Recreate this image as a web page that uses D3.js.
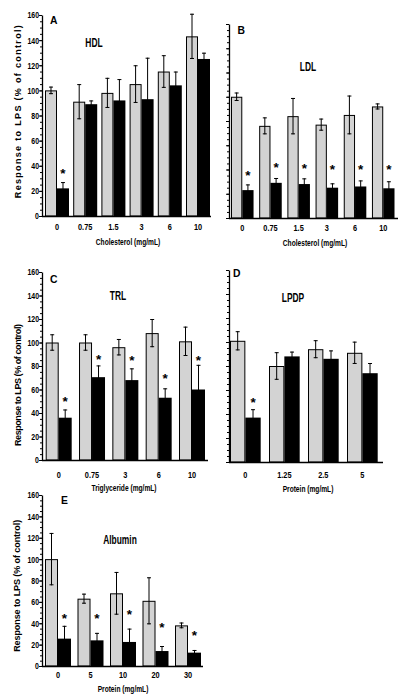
<!DOCTYPE html>
<html><head><meta charset="utf-8">
<script src="https://cdn.jsdelivr.net/npm/d3@7"></script>
<style>
body{margin:0;background:#fff;}
svg text{font-family:"Liberation Sans",Arial,sans-serif;font-weight:bold;fill:#000;}
</style></head><body>
<svg id="c" width="403" height="698"></svg>
<script>
// ---------- data ----------
const yTickValues = [0,20,40,60,80,100,120,140,160];

const hdlCats    = ["0","0.75","1.5","3","6","10"];
const hdlCtrl    = [100,91,98,105,115,143];
const hdlCtrlErr = [3,14,12,15,13,18];
const hdlTrt     = [22,89,92,93,104,125];
const hdlTrtErr  = [5,3,17,33,11,5];
const hdlStars   = [36,null,null,null,null,null];

const ldlCats    = ["0","0.75","1.5","3","6","10"];
const ldlCtrl    = [100,76,84,77,85,92];
const ldlCtrlErr = [3.5,7,15,5,16,2.5];
const ldlTrt     = [23,29,28,25,26,24.5];
const ldlTrtErr  = [4.7,4,4.7,3.6,5,5.8];
const ldlStars   = [37,43.7,42.9,42.3,42.3,42.3];

const trlCats    = ["0","0.75","3","6","10"];
const trlCtrl    = [100,100,96,108,101];
const trlCtrlErr = [7,7,7,12,12.5];
const trlTrt     = [36,70.5,68,53,60];
const trlTrtErr  = [7,10,10,8,21];
const trlStars   = [52,88,87,72,87];

const lpdpCats    = ["0","1.25","2.5","5"];
const lpdpCtrl    = [101,80,94,91];
const lpdpCtrlErr = [8,11.5,7.5,9.3];
const lpdpTrt     = [37,88,86,74];
const lpdpTrtErr  = [7,4,7,8.5];
const lpdpStars   = [52,null,null,null];

const albCats    = ["0","5","10","20","30"];
const albCtrl    = [100,63,68,61,38];
const albCtrlErr = [24.5,4.7,20,22,2.7];
const albTrt     = [25.6,24,22.5,14,12.5];
const albTrtErr  = [12,7,12.5,4.7,2.5];
const albStars   = [46.6,46.6,50.6,39,31];

const yTitle = "Response to LPS (% of control)";

// ---------- layout ----------
const panels = [
 {letter:"A", name:"HDL", cats:hdlCats, ctrl:hdlCtrl, ctrlErr:hdlCtrlErr, trt:hdlTrt, trtErr:hdlTrtErr, stars:hdlStars,
  xTitle:"Cholesterol (mg/mL)", x0:42, x1:211, yTop:15, yBot:216, bandStart:45, bandEnd:210, pad:0.149,
  yLabels:true, letterPos:[50,24], namePos:[94,47], tickBase:229.5, xTitlePos:[128,245],
  yTitlePos:[20.5,111.7], yTitleLen:173},
 {letter:"B", name:"LDL", cats:ldlCats, ctrl:ldlCtrl, ctrlErr:ldlCtrlErr, trt:ldlTrt, trtErr:ldlTrtErr, stars:ldlStars,
  xTitle:"Cholesterol (mg/mL)", x0:229, x1:398, yTop:24, yBot:218, bandStart:231, bandEnd:394.5, pad:0.2,
  yLabels:false, letterPos:[237.5,34], namePos:[308,71], tickBase:231, xTitlePos:[315,245.5]},
 {letter:"C", name:"TRL", cats:trlCats, ctrl:trlCtrl, ctrlErr:trlCtrlErr, trt:trlTrt, trtErr:trlTrtErr, stars:trlStars,
  xTitle:"Triglyceride (mg/mL)", x0:42, x1:208, yTop:272, yBot:460, bandStart:45.7, bandEnd:205, pad:0.22,
  yLabels:true, letterPos:[50,283], namePos:[118,300], tickBase:477.5, xTitlePos:[124,491],
  yTitlePos:[20.5,385], yTitleLen:122},
 {letter:"D", name:"LPDP", cats:lpdpCats, ctrl:lpdpCtrl, ctrlErr:lpdpCtrlErr, trt:lpdpTrt, trtErr:lpdpTrtErr, stars:lpdpStars,
  xTitle:"Protein (mg/mL)", x0:229, x1:383, yTop:270, yBot:462, bandStart:230, bandEnd:377.7, pad:0.213,
  yLabels:false, letterPos:[233,277], namePos:[293,302], tickBase:478, xTitlePos:[308,492]},
 {letter:"E", name:"Albumin", cats:albCats, ctrl:albCtrl, ctrlErr:albCtrlErr, trt:albTrt, trtErr:albTrtErr, stars:albStars,
  xTitle:"Protein (mg/mL)", x0:42, x1:203, yTop:495, yBot:666, bandStart:45, bandEnd:201, pad:0.2,
  yLabels:true, letterPos:[61,504], namePos:[120,544], tickBase:678, xTitlePos:[123,692],
  yTitlePos:[20,585.8], yTitleLen:132}
];

const svg = d3.select("#c");
const GRAY = "#d3d3d3";

// condensed text: width scaled by factor via textLength
function narrow(sel, f){
  sel.each(function(){
    const L = this.getComputedTextLength();
    this.setAttribute("textLength", (L*f).toFixed(2));
    this.setAttribute("lengthAdjust","spacingAndGlyphs");
  });
}

panels.forEach(p => {
  const g = svg.append("g");
  const y = d3.scaleLinear().domain([0,160]).range([p.yBot, p.yTop]);
  const x = d3.scaleBand().domain(p.cats).range([p.bandStart, p.bandEnd]).paddingInner(p.pad).paddingOuter(0);
  const xs = d3.scaleBand().domain(["ctrl","trt"]).range([0, x.bandwidth()]);
  const rows = p.cats.map((c,i) => ({c, ctrl:p.ctrl[i], ctrlErr:p.ctrlErr[i], trt:p.trt[i], trtErr:p.trtErr[i], star:p.stars[i]}));

  // bars
  const grp = g.selectAll("g.grp").data(rows).enter().append("g").attr("transform", d => `translate(${x(d.c)},0)`);
  grp.append("rect").attr("x", xs("ctrl")+0.5).attr("width", xs.bandwidth()-1)
     .attr("y", d => y(d.ctrl)+0.5).attr("height", d => y(0)-y(d.ctrl)-0.5)
     .attr("fill", GRAY).attr("stroke","#000").attr("stroke-width",1);
  grp.append("rect").attr("x", xs("trt")).attr("width", xs.bandwidth())
     .attr("y", d => y(d.trt)).attr("height", d => y(0)-y(d.trt)).attr("fill","#000");

  // error bars
  function err(sel, key, ekey){
    const cx = xs(key) + xs.bandwidth()/2;
    sel.append("line").attr("x1",cx).attr("x2",cx).attr("y1",d=>y(d[key]+d[ekey])).attr("y2",d=>y(d[key]-d[ekey]))
       .attr("stroke","#000").attr("stroke-width",1);
    sel.append("line").attr("x1",cx-2).attr("x2",cx+2).attr("y1",d=>y(d[key]+d[ekey])+0.5).attr("y2",d=>y(d[key]+d[ekey])+0.5)
       .attr("stroke","#000").attr("stroke-width",1);
    sel.append("line").attr("x1",cx-2).attr("x2",cx+2).attr("y1",d=>y(d[key]-d[ekey])-0.5).attr("y2",d=>y(d[key]-d[ekey])-0.5)
       .attr("stroke","#000").attr("stroke-width",1);
  }
  err(grp, "ctrl", "ctrlErr");
  err(grp, "trt", "trtErr");

  // stars
  grp.filter(d => d.star != null).append("text")
     .attr("x", xs("trt") + xs.bandwidth()/2).attr("y", d => y(d.star) + 7.2)
     .attr("text-anchor","middle").style("font-size","13.5px")
     .text("*");

  // y axis (minor + major)
  const yMinor = d3.axisLeft(y).tickValues(d3.range(0,161,5)).tickSize(2).tickSizeOuter(0).tickFormat("");
  g.append("g").attr("transform",`translate(${p.x0},0)`).call(yMinor)
    .call(s => s.select(".domain").attr("stroke","#000").attr("stroke-width",1.3));
  const yMajor = d3.axisLeft(y).tickValues(yTickValues).tickSize(3).tickSizeOuter(0).tickPadding(0)
    .tickFormat(p.yLabels ? d3.format("d") : "");
  const ya = g.append("g").attr("transform",`translate(${p.x0},0)`).call(yMajor);
  ya.select(".domain").remove();
  ya.selectAll("text").attr("class","n yt").style("font-size","8.7px").style("font-family", null).attr("fill","#000").attr("dy","0.34em");

  // x axis line
  g.append("line").attr("x1",p.x0).attr("x2",p.x1).attr("y1",p.yBot+0.5).attr("y2",p.yBot+0.5)
   .attr("stroke","#000").attr("stroke-width",1.3);
  // x tick labels
  g.selectAll("text.xt").data(p.cats).enter().append("text").attr("class","xt")
   .attr("x", c => x(c) + x.bandwidth()/2).attr("y", p.tickBase)
   .attr("text-anchor","middle").style("font-size","9.2px").text(c => c);

  // titles
  g.append("text").attr("class","xtitle").attr("x",p.xTitlePos[0]).attr("y",p.xTitlePos[1]).attr("text-anchor","middle")
   .style("font-size","9.2px").text(p.xTitle);
  g.append("text").attr("class","lt").attr("x",p.letterPos[0]).attr("y",p.letterPos[1]).style("font-size","11.5px").text(p.letter);
  g.append("text").attr("class","nm").attr("x",p.namePos[0]).attr("y",p.namePos[1]).attr("text-anchor","middle").style("font-size","12px").text(p.name);
  if (p.yTitlePos) {
    g.append("text").attr("transform",`translate(${p.yTitlePos[0]},${p.yTitlePos[1]}) rotate(-90)`)
     .attr("text-anchor","middle").attr("textLength",p.yTitleLen).attr("lengthAdjust","spacing")
     .style("font-size","9px").text(yTitle);
  }
});

narrow(svg.selectAll("text.yt"), 0.8);
narrow(svg.selectAll("text.xt"), 0.8);
narrow(svg.selectAll("text.xtitle"), 0.72);
narrow(svg.selectAll("text.lt"), 0.9);
narrow(svg.selectAll("text.nm"), 0.7);
</script>
</body></html>
